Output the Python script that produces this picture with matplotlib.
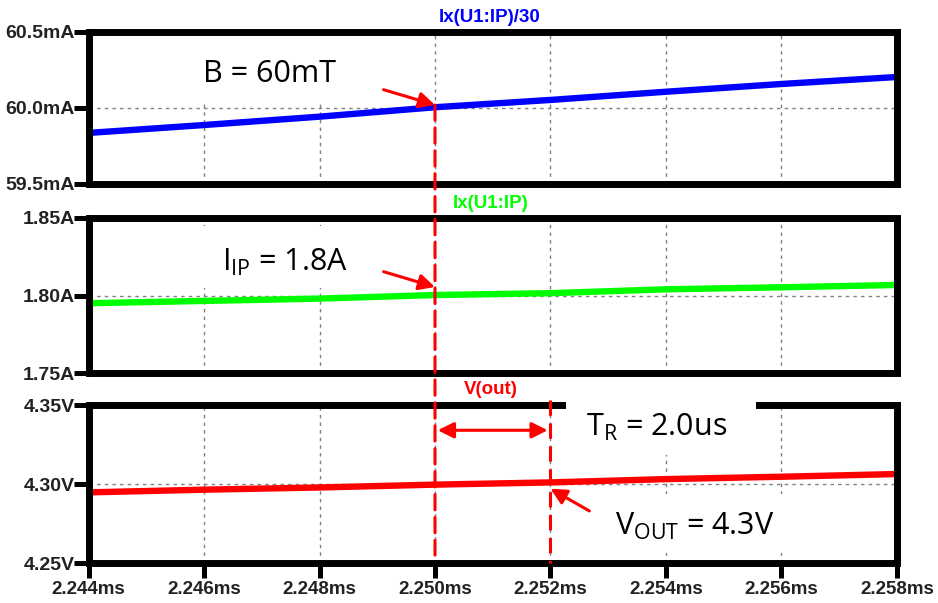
import matplotlib
matplotlib.use("Agg")
import matplotlib.pyplot as plt
from matplotlib.patches import Rectangle, ConnectionPatch
import numpy as np

# ---------------- data ----------------
time_ms = [2.244, 2.246, 2.248, 2.250, 2.252, 2.254, 2.256, 2.258]
ix_div30_mA = [59.836, 59.888, 59.943, 60.005, 60.053, 60.107, 60.158, 60.204]
ix_A = [1.795, 1.7965, 1.798, 1.8003, 1.8015, 1.804, 1.8053, 1.8068]
vout_V = [4.2947, 4.2964, 4.2978, 4.2996, 4.3010, 4.3031, 4.3046, 4.3063]

x_ticks = [2.244, 2.246, 2.248, 2.250, 2.252, 2.254, 2.256, 2.258]
x_labels = ["2.244ms", "2.246ms", "2.248ms", "2.250ms", "2.252ms", "2.254ms", "2.256ms", "2.258ms"]
y1_ticks = [59.5, 60.0, 60.5]
y1_labels = ["59.5mA", "60.0mA", "60.5mA"]
y2_ticks = [1.75, 1.80, 1.85]
y2_labels = ["1.75A", "1.80A", "1.85A"]
y3_ticks = [4.25, 4.30, 4.35]
y3_labels = ["4.25V", "4.30V", "4.35V"]

titles = ["Ix(U1:IP)/30", "Ix(U1:IP)", "V(out)"]
t_cursor1 = 2.250
t_cursor2 = 2.252

# ---------------- layout ----------------
W, H = 938, 603
fig = plt.figure(figsize=(W / 100, H / 100), dpi=100)
fig.patch.set_facecolor("white")

def fx(x):
    return x / W

def fy(y):
    return 1 - y / H

L, R = 88.5, 897.0
panels = [(32, 184), (218, 373), (405, 563)]
axes = []
for (t, b) in panels:
    ax = fig.add_axes([fx(L), fy(b), (R - L) / W, (b - t) / H])
    axes.append(ax)
ax1, ax2, ax3 = axes

YFONT = dict(family="Liberation Sans", fontweight="bold", fontsize=14, color="#222222")
XFONT = dict(family="Liberation Sans", fontweight="bold", fontsize=13.5, color="#222222")
grid_kw = dict(color="#808080", linestyle=(0, (2.5, 3)), linewidth=1.0)

series = [ix_div30_mA, ix_A, vout_V]
colors = ["#0000FF", "#00FF00", "#FF0000"]
yticks = [y1_ticks, y2_ticks, y3_ticks]
ylabels = [y1_labels, y2_labels, y3_labels]

for i, ax in enumerate(axes):
    ax.plot(time_ms, series[i], color=colors[i], linewidth=4.6, solid_capstyle="butt", zorder=2)
    ax.set_xlim(x_ticks[0], x_ticks[-1])
    ax.set_ylim(yticks[i][0], yticks[i][-1])
    ax.set_yticks(yticks[i], ylabels[i], **YFONT)
    ax.set_xticks(x_ticks)
    ax.grid(True, **grid_kw)
    for s in ax.spines.values():
        s.set_linewidth(5)
        s.set_color("black")
    ax.tick_params(axis="y", direction="out", length=11, width=3.6, pad=-1, colors="black",
                   labelcolor="#222222", right=False)
    if i < 2:
        ax.tick_params(axis="x", length=0, labelbottom=False)
    else:
        ax.set_xticks(x_ticks, x_labels, **XFONT)
        ax.tick_params(axis="x", direction="out", length=11, width=3.6, pad=2,
                       colors="black", labelcolor="#222222")

# panel titles
title_pos = [(490, 17), (491, 203), (491, 390)]
for (x, y), txt, c in zip(title_pos, titles, colors):
    fig.text(fx(x), fy(y), txt, color=c, ha="center", va="center",
             family="Liberation Sans", fontweight="bold", fontsize=13.5, zorder=3)

# white boxes behind annotation texts
boxes = [(193, 36, 352, 101), (195, 226, 362, 288), (566, 396, 756, 455), (600, 494, 800, 553)]
for (x0, y0, x1, y1) in boxes:
    fig.add_artist(Rectangle((fx(x0), fy(y1)), (x1 - x0) / W, (y1 - y0) / H,
                             transform=fig.transFigure, facecolor="white",
                             edgecolor="none", zorder=1))

ANN = dict(family="Open Sans", fontsize=22, color="black", ha="left", va="baseline", zorder=3)
fig.text(fx(203), fy(82), "B = 60mT", **ANN)
fig.text(fx(222), fy(271), r"I$_{\mathregular{IP}}$ = 1.8A", **ANN)
fig.text(fx(586), fy(436), r"T$_{\mathregular{R}}$ = 2.0us", **ANN)
fig.text(fx(615), fy(535), r"V$_{\mathregular{OUT}}$ = 4.3V", **ANN)

# cursor dashed lines
dash = (0, (5, 2.5))
cp = ConnectionPatch(xyA=(t_cursor1, 60.02), coordsA=ax1.transData,
                     xyB=(t_cursor1, 4.255), coordsB=ax3.transData,
                     color="#FF0000", linewidth=2.2, linestyle=dash, zorder=5)
fig.add_artist(cp)
ax3.plot([t_cursor2, t_cursor2], [4.353, 4.25], color="#FF0000", linewidth=2.2,
         linestyle=dash, clip_on=False, zorder=5)

arrow = dict(arrowstyle="-|>,head_length=0.6,head_width=0.3", color="#FF0000",
             lw=2.2, mutation_scale=16, shrinkA=0, shrinkB=0)
ax1.annotate("", xy=(t_cursor1, 60.02), xytext=(-37, 11), textcoords="offset points",
             arrowprops=arrow, annotation_clip=False)
ax2.annotate("", xy=(t_cursor1, 1.8055), xytext=(-37, 11), textcoords="offset points",
             arrowprops=arrow, annotation_clip=False)
ax3.annotate("", xy=(t_cursor2, 4.297), xytext=(28, -16), textcoords="offset points",
             arrowprops=arrow, annotation_clip=False)
darrow = dict(arrowstyle="<|-|>,head_length=0.6,head_width=0.3", color="#FF0000",
              lw=2.2, mutation_scale=16, shrinkA=2, shrinkB=2)
ax3.annotate("", xy=(t_cursor2, 4.334), xytext=(t_cursor1, 4.334), arrowprops=darrow,
             annotation_clip=False)

fig.savefig("out.png", dpi=100, facecolor="white")
